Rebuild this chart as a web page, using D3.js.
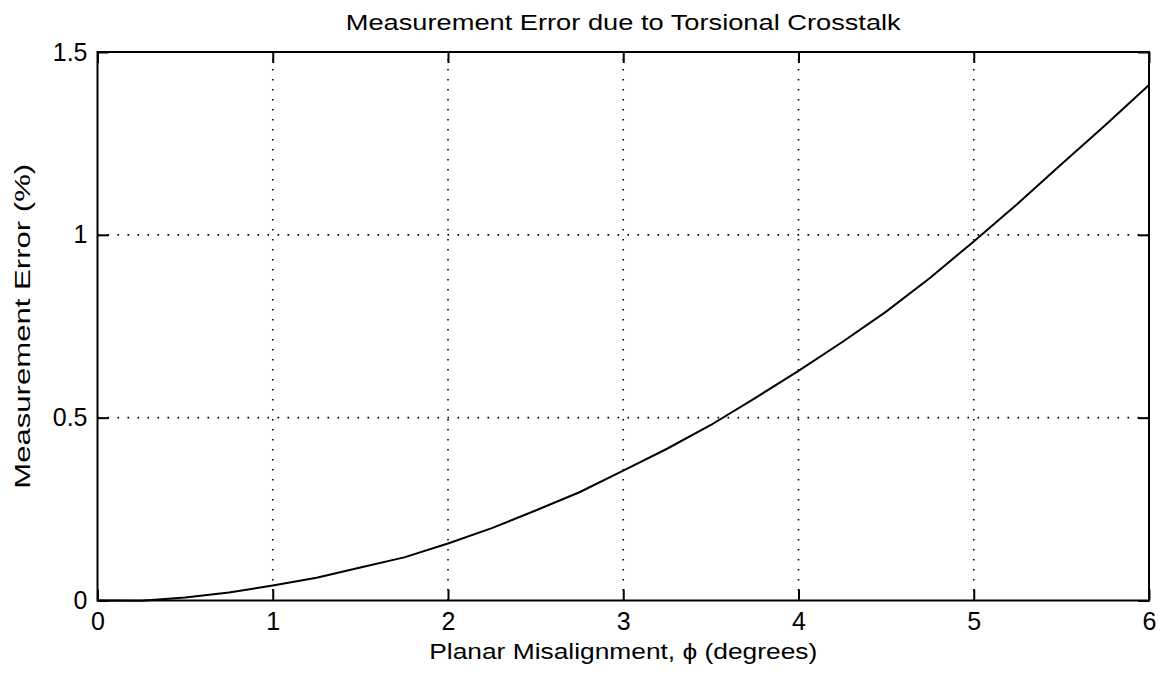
<!DOCTYPE html>
<html>
<head>
<meta charset="utf-8">
<script src="https://cdn.jsdelivr.net/npm/d3@7"></script>
<style>
  html, body { margin: 0; padding: 0; background: #fff; }
  svg { display: block; }
  text { font-family: "Liberation Sans", Arial, sans-serif; fill: #000; }
</style>
</head>
<body>
<svg id="chart" width="1162" height="675"></svg>
<script>
// ---- data ----
const phi = [0, 0.25, 0.5, 0.75, 1, 1.25, 1.5, 1.75, 2, 2.25, 2.5, 2.75, 3, 3.25, 3.5, 3.75, 4, 4.25, 4.5, 4.75, 5, 5.25, 5.5, 5.75, 6];
const errorPct = [0.000, -0.001, 0.008, 0.022, 0.041, 0.062, 0.090, 0.118, 0.156, 0.198, 0.246, 0.296, 0.355, 0.415, 0.480, 0.553, 0.628, 0.707, 0.790, 0.882, 0.982, 1.085, 1.193, 1.300, 1.410];
const xTicks = [0, 1, 2, 3, 4, 5, 6];
const yTicks = [0, 0.5, 1, 1.5];
const xTickLabels = ["0", "1", "2", "3", "4", "5", "6"];
const yTickLabels = ["0", "0.5", "1", "1.5"];
const titleText = "Measurement Error due to Torsional Crosstalk";
const xLabelText = "Planar Misalignment, \u03D5 (degrees)";
const yLabelText = "Measurement Error (%)";

// ---- layout ----
const mLeft = 97.5, mRight = 1149, mTop = 52, mBottom = 600.5;
const svg = d3.select("#chart");
const x = d3.scaleLinear().domain([0, 6]).range([mLeft, mRight]);
const y = d3.scaleLinear().domain([0, 1.5]).range([mBottom, mTop]);
const tickLen = 11;

// grid
const grid = svg.append("g").attr("stroke", "#000").attr("stroke-width", 1.6)
  .attr("stroke-dasharray", "1.6,8.4").attr("fill", "none");
xTicks.slice(1, -1).forEach(v => {
  grid.append("line").attr("x1", x(v)).attr("x2", x(v)).attr("y1", y(0)).attr("y2", y(1.5));
});
yTicks.slice(1, -1).forEach(v => {
  grid.append("line").attr("x1", x(0)).attr("x2", x(6)).attr("y1", y(v)).attr("y2", y(v));
});

// axes via d3 (inner ticks)
const fontSize = 25;
const xAxis = d3.axisBottom(x).tickValues(xTicks).tickFormat((d, i) => xTickLabels[i])
  .tickSizeInner(-tickLen).tickSizeOuter(0).tickPadding(12);
const gx = svg.append("g").attr("transform", `translate(0,${mBottom})`).call(xAxis);
const xTopAxis = d3.axisTop(x).tickValues(xTicks).tickFormat("").tickSizeInner(-tickLen).tickSizeOuter(0);
const gxt = svg.append("g").attr("transform", `translate(0,${mTop})`).call(xTopAxis);
const yAxis = d3.axisLeft(y).tickValues(yTicks).tickFormat((d, i) => yTickLabels[i])
  .tickSizeInner(-tickLen).tickSizeOuter(0).tickPadding(10);
const gy = svg.append("g").attr("transform", `translate(${mLeft},0)`).call(yAxis);
const yRightAxis = d3.axisRight(y).tickValues(yTicks).tickFormat("").tickSizeInner(-tickLen).tickSizeOuter(0);
const gyr = svg.append("g").attr("transform", `translate(${mRight},0)`).call(yRightAxis);

[gx, gxt, gy, gyr].forEach(g => {
  g.select(".domain").remove();
  g.selectAll(".tick line").attr("stroke", "#000").attr("stroke-width", 2);
  g.selectAll(".tick text").attr("font-size", fontSize).attr("font-family", "Liberation Sans, Arial, sans-serif").attr("fill", "#000");
});

// frame
svg.append("rect").attr("x", mLeft).attr("y", mTop).attr("width", mRight - mLeft).attr("height", mBottom - mTop)
  .attr("fill", "none").attr("stroke", "#000").attr("stroke-width", 2);

// curve
const line = d3.line().x((d, i) => x(phi[i])).y(d => y(d));
svg.append("path").datum(errorPct).attr("d", line)
  .attr("fill", "none").attr("stroke", "#000").attr("stroke-width", 2).attr("stroke-linejoin", "round");

// title & labels
svg.append("text").attr("x", (mLeft + mRight) / 2).attr("y", 30).attr("text-anchor", "middle")
  .attr("font-size", 22).attr("textLength", 555).attr("lengthAdjust", "spacingAndGlyphs").text(titleText);
svg.append("text").attr("x", (mLeft + mRight) / 2).attr("y", 659).attr("text-anchor", "middle")
  .attr("font-size", 22).attr("textLength", 388).attr("lengthAdjust", "spacingAndGlyphs").text(xLabelText);
svg.append("text").attr("transform", `translate(30,${(mTop + mBottom) / 2}) rotate(-90)`).attr("text-anchor", "middle")
  .attr("font-size", 22).attr("textLength", 325).attr("lengthAdjust", "spacingAndGlyphs").text(yLabelText);
</script>
</body>
</html>
